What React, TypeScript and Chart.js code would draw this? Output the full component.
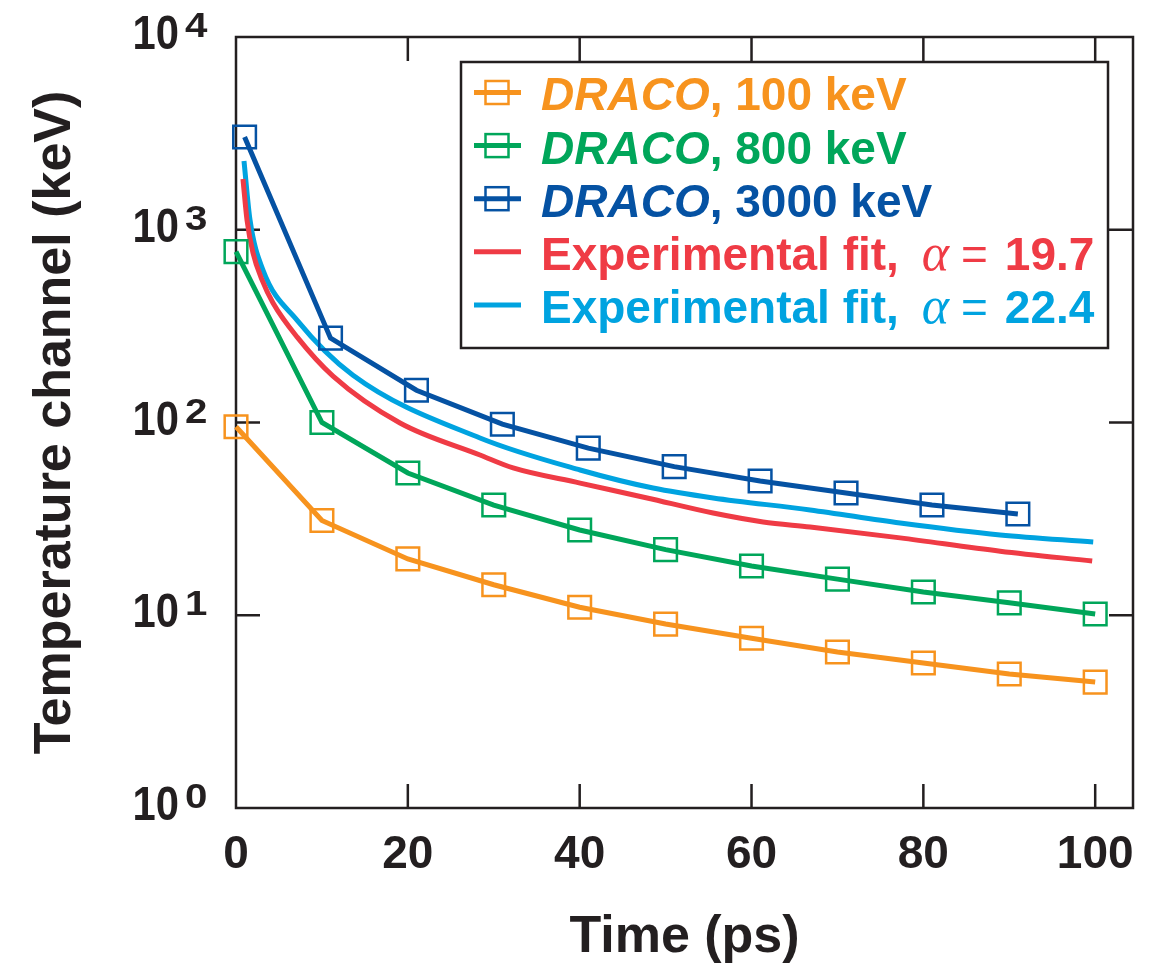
import { useEffect, useRef } from 'react';
import { Chart, registerables } from 'chart.js';

Chart.register(...registerables);

const FONT = "'Liberation Sans', Arial, Helvetica, sans-serif";
const SERIF = "'Liberation Serif', 'Times New Roman', serif";
const INK = '#231f20';

const ORANGE = '#f7931e';
const GREEN = '#00a65a';
const NAVY = '#0552a3';
const RED = '#ef3b45';
const CYAN = '#00a3e0';

// DRACO simulations (time in ps, temperature channel in keV)
const dracoTimes = [0, 10, 20, 30, 40, 50, 60, 70, 80, 90, 100];
const draco100 = [95, 31, 19.6, 14.4, 11.0, 9.0, 7.6, 6.45, 5.65, 4.96, 4.5];
const draco800 = [770, 100, 54.7, 37.3, 27.7, 21.9, 18.0, 15.4, 13.2, 11.6, 10.15];
const dracoTimes3000 = [1, 11, 21, 31, 41, 51, 61, 71, 81, 91];
const draco3000 = [3030, 274, 147, 98, 73.6, 59, 49.7, 43.1, 37.3, 33.5];

// Experimental fits
const fitTimesA = [0.81, 1.28, 1.98, 3.03, 4.31, 7.1, 11.29, 19.09, 28.4, 32.25, 40.05, 47.85, 55.53, 61.35, 66.82, 77.3, 88.94, 99.65];
const fitA = [1834, 1124, 758, 549, 417, 278, 174, 99.4, 67.8, 58.1, 48.5, 40.6, 33.9, 30.5, 28.7, 25.2, 21.5, 19.1];
const fitTimesB = [0.93, 1.63, 3.14, 7.1, 13.62, 28.4, 40.05, 48.54, 55.53, 66.82, 77.3, 88.94, 99.77];
const fitB = [2274, 1124, 618, 340, 176, 83.1, 56.7, 45.7, 40.6, 35.2, 30.1, 26.1, 24.0];

// Axis ticks
const xTicks = [0, 20, 40, 60, 80, 100];
const yDecades = [1, 10, 100, 1000, 10000];
const yExponents = ['0', '1', '2', '3', '4'];

// Legend entries
const dracoEnergies = ['100', '800', '3000'];
const fitAlphas = ['19.7', '22.4'];

const pts = (xs: number[], ys: number[]) => xs.map((x, i) => ({ x, y: ys[i] }));

const dracoStyle = (color: string) => ({
  borderColor: color,
  borderWidth: 5,
  pointStyle: 'rect' as const,
  pointRadius: 16,
  pointBorderWidth: 2.5,
  pointBorderColor: color,
  pointBackgroundColor: 'rgba(0,0,0,0)',
  tension: 0,
  clip: false as const,
});

const fitStyle = (color: string) => ({
  borderColor: color,
  borderWidth: 5,
  pointRadius: 0,
  cubicInterpolationMode: 'monotone' as const,
  clip: false as const,
});

// draws text squeezed or stretched horizontally around its anchor
function scaledText(ctx: CanvasRenderingContext2D, text: string, x: number, y: number, sx: number) {
  ctx.save();
  ctx.translate(x, y);
  ctx.scale(sx, 1);
  ctx.fillText(text, 0, 0);
  ctx.restore();
}

const framePlugin = {
  id: 'frame',
  beforeDatasetsDraw(chart: any) {
    const { ctx, chartArea } = chart;
    const { left, right, top, bottom } = chartArea;
    const xs = chart.scales.x;
    const ys = chart.scales.y;
    const tick = 24;
    ctx.save();
    ctx.strokeStyle = INK;
    ctx.lineWidth = 2.5;
    ctx.strokeRect(left, top, right - left, bottom - top);
    ctx.beginPath();
    xTicks.forEach((v) => {
      if (v === 0) return;
      const px = xs.getPixelForValue(v);
      ctx.moveTo(px, bottom);
      ctx.lineTo(px, bottom - tick);
      ctx.moveTo(px, top);
      ctx.lineTo(px, top + tick);
    });
    yDecades.forEach((v) => {
      if (v === 1 || v === 10000) return;
      const py = ys.getPixelForValue(v);
      ctx.moveTo(left, py);
      ctx.lineTo(left + tick, py);
      ctx.moveTo(right, py);
      ctx.lineTo(right - tick, py);
    });
    ctx.stroke();

    // decade labels with superscript exponents
    ctx.fillStyle = INK;
    yDecades.forEach((v, i) => {
      const py = ys.getPixelForValue(v);
      ctx.font = `bold 48px ${FONT}`;
      ctx.textAlign = 'right';
      ctx.textBaseline = 'middle';
      scaledText(ctx, '10', left - 57, py - 1, 0.87);
      ctx.font = `bold 35px ${FONT}`;
      ctx.textAlign = 'left';
      ctx.textBaseline = 'alphabetic';
      scaledText(ctx, yExponents[i], left - 51, py, 1.15);
    });
    ctx.restore();
  },
};

const legendPlugin = {
  id: 'boxLegend',
  afterDatasetsDraw(chart: any) {
    const { ctx } = chart;
    const box = { x: 461, y: 62, w: 647, h: 286 };
    ctx.save();
    ctx.fillStyle = '#ffffff';
    ctx.fillRect(box.x, box.y, box.w, box.h);
    ctx.strokeStyle = INK;
    ctx.lineWidth = 2.5;
    ctx.strokeRect(box.x, box.y, box.w, box.h);

    const rowY0 = 94;
    const rowStep = 53.1;
    const textX = 541;
    const size = 46;
    const capHalf = size * 0.716 / 2;

    chart.data.datasets.forEach((ds: any, i: number) => {
      const cy = rowY0 + i * rowStep;
      const color = ds.borderColor;
      ctx.strokeStyle = color;
      ctx.lineWidth = 5;
      ctx.beginPath();
      ctx.moveTo(474, cy - 1.5);
      ctx.lineTo(521, cy - 1.5);
      ctx.stroke();
      const base = cy + capHalf;
      ctx.fillStyle = color;
      ctx.textAlign = 'left';
      ctx.textBaseline = 'alphabetic';
      let x = textX;
      if (i < 3) {
        ctx.lineWidth = 2.5;
        ctx.strokeRect(497 - 11.5, cy - 1.5 - 11.5, 23, 23);
        ctx.font = `italic bold ${size}px ${FONT}`;
        ctx.fillText('DRACO', x, base);
        x += ctx.measureText('DRACO').width;
        ctx.font = `bold ${size}px ${FONT}`;
        ctx.fillText(`, ${dracoEnergies[i]} keV`, x, base);
      } else {
        ctx.font = `bold ${size}px ${FONT}`;
        const head = 'Experimental fit, ';
        ctx.fillText(head, x, base);
        x += ctx.measureText(head).width + 10;
        ctx.font = `italic ${size + 6}px ${SERIF}`;
        ctx.fillText('α', x, base);
        x += ctx.measureText('α').width + 12;
        ctx.font = `${size}px ${FONT}`;
        ctx.fillText('=', x, base);
        x += ctx.measureText('=').width + 17;
        ctx.font = `bold ${size}px ${FONT}`;
        ctx.fillText(fitAlphas[i - 3], x, base);
      }
    });
    ctx.restore();
  },
};

export default function App() {
  const canvasRef = useRef<HTMLCanvasElement | null>(null);

  useEffect(() => {
    if (!canvasRef.current) return;
    const chart = new Chart(canvasRef.current, {
      type: 'line',
      data: {
        datasets: [
          { label: 'DRACO, 100 keV', data: pts(dracoTimes, draco100), ...dracoStyle(ORANGE) },
          { label: 'DRACO, 800 keV', data: pts(dracoTimes, draco800), ...dracoStyle(GREEN) },
          { label: 'DRACO, 3000 keV', data: pts(dracoTimes3000, draco3000), ...dracoStyle(NAVY) },
          { label: 'Experimental fit, α = 19.7', data: pts(fitTimesA, fitA), ...fitStyle(RED) },
          { label: 'Experimental fit, α = 22.4', data: pts(fitTimesB, fitB), ...fitStyle(CYAN) },
        ] as any,
      },
      options: {
        responsive: true,
        maintainAspectRatio: false,
        animation: false,
        layout: { padding: { left: 0, top: 37, right: 26, bottom: 0 } },
        plugins: { legend: { display: false }, tooltip: { enabled: false } },
        scales: {
          x: {
            type: 'linear',
            min: 0,
            max: 104.4,
            ticks: {
              stepSize: 20,
              includeBounds: false,
              autoSkip: false,
              maxRotation: 0,
              padding: 20,
              color: INK,
              font: { family: FONT, size: 46, weight: 'bold' },
            },
            grid: { display: false, drawTicks: false },
            border: { display: false },
            title: {
              display: true,
              text: 'Time (ps)',
              color: INK,
              font: { family: FONT, size: 52, weight: 'bold' },
              padding: { top: 0, bottom: 4 },
            },
            afterFit: (s: any) => {
              s.height = 165;
            },
          },
          y: {
            type: 'logarithmic',
            min: 1,
            max: 10000,
            afterBuildTicks: (s: any) => {
              s.ticks = yDecades.map((v) => ({ value: v }));
            },
            ticks: { display: false },
            grid: { display: false, drawTicks: false },
            border: { display: false },
            title: {
              display: true,
              text: 'Temperature channel (keV)',
              color: INK,
              font: { family: FONT, size: 52, weight: 'bold' },
              padding: { top: 24, bottom: 0 },
            },
            afterFit: (s: any) => {
              s.width = 236;
            },
          },
        },
      } as any,
      plugins: [framePlugin, legendPlugin],
    });
    return () => chart.destroy();
  }, []);

  return (
    <div style={{ position: 'fixed', left: 0, top: 0, width: 1159, height: 973, background: '#fff' }}>
      <canvas ref={canvasRef} />
    </div>
  );
}
